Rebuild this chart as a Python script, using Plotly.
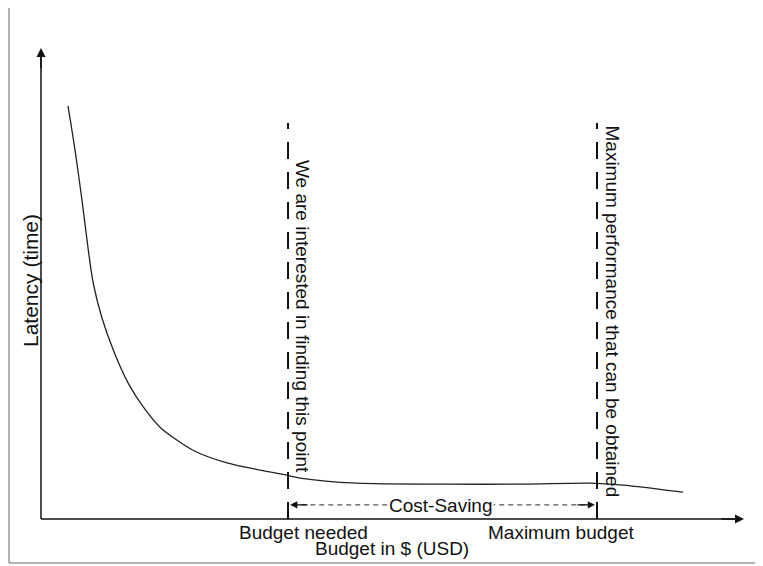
import plotly.graph_objects as go

# ---- data (budget / latency in arbitrary units 0-100) ----
budget = [3.84, 4.84, 5.83, 6.73, 7.44, 8.63, 10.28, 12.42, 14.55, 16.93, 21.62, 26.46,
          31.15, 34.99, 36.84, 44.95, 57.75, 68.56, 78.09, 82.79, 91.32]
latency = [87.7, 78.3, 67.7, 57.1, 50.0, 42.9, 35.9, 28.8, 23.8, 19.5, 14.6, 11.9,
           10.4, 9.3, 8.7, 7.6, 7.4, 7.4, 7.6, 7.2, 5.7]
budget_needed = 35.14
max_budget = 79.09
marker_top = 84.1
cost_saving_level = 3.0

# ---- layout geometry (page pixels; page body has an 8px margin) ----
OFF = 8
PW, PH = 763, 566
W, H = PW - OFF, PH - OFF
L, R, T, B = 41, 744, 48, 519   # plot area in page pixels


def px2x(px):
    return (px - L) / (R - L) * 100


def py2y(py):
    return (B - py) / (B - T) * 100


def pxp(px):
    return (px - L) / (R - L)


def pyp(py):
    return (B - py) / (B - T)


FONT = "Liberation Sans, Arial, sans-serif"

fig = go.Figure()
fig.add_trace(go.Scatter(x=budget, y=latency, mode="lines",
                         line=dict(color="#222", width=1.3, shape="spline", smoothing=0.8),
                         hoverinfo="skip", showlegend=False))

shapes = []
# outer frame
shapes.append(dict(type="rect", xref="paper", yref="paper",
                   x0=pxp(9), x1=pxp(760), y0=pyp(563), y1=pyp(4),
                   line=dict(color="#666", width=1)))
# axes
shapes.append(dict(type="line", xref="paper", yref="paper", x0=0, x1=0, y0=0, y1=pyp(52),
                   line=dict(color="#111", width=1.5)))
shapes.append(dict(type="line", xref="paper", yref="paper", x0=0, x1=pxp(738), y0=0, y1=0,
                   line=dict(color="#111", width=1.5)))
# vertical dashed markers
for xv in (budget_needed, max_budget):
    shapes.append(dict(type="line", xref="x", yref="y", x0=xv, x1=xv, y0=0, y1=marker_top,
                       line=dict(color="#111", width=2, dash="17px,13px")))
# cost saving dashed line
shapes.append(dict(type="line", xref="x", yref="y", x0=budget_needed + 0.6, x1=max_budget - 0.6,
                   y0=cost_saving_level, y1=cost_saving_level,
                   line=dict(color="#555", width=1.2, dash="5px,4px")))

ann = []
# axis arrowheads
ann.append(dict(x=0, y=100, xref="x", yref="y", ax=0, ay=py2y(70), axref="x", ayref="y",
                showarrow=True, arrowhead=2, arrowsize=1.2, arrowwidth=1.5, arrowcolor="#111", text=""))
ann.append(dict(x=100, y=0, xref="x", yref="y", ax=px2x(720), ay=0, axref="x", ayref="y",
                showarrow=True, arrowhead=2, arrowsize=1.2, arrowwidth=1.5, arrowcolor="#111", text=""))
# cost saving arrowheads
ann.append(dict(x=budget_needed + 0.3, y=cost_saving_level, xref="x", yref="y",
                ax=budget_needed + 3, ay=cost_saving_level, axref="x", ayref="y",
                showarrow=True, arrowhead=2, arrowsize=1.1, arrowwidth=1.3, arrowcolor="#111", text=""))
ann.append(dict(x=max_budget - 0.3, y=cost_saving_level, xref="x", yref="y",
                ax=max_budget - 3, ay=cost_saving_level, axref="x", ayref="y",
                showarrow=True, arrowhead=2, arrowsize=1.1, arrowwidth=1.3, arrowcolor="#111", text=""))


def text(t, px, py, size=19, angle=0, xa="center", ya="middle", bg=None):
    d = dict(text=t, x=pxp(px), y=pyp(py), xref="paper", yref="paper", showarrow=False,
             textangle=angle, xanchor=xa, yanchor=ya,
             font=dict(family=FONT, size=size, color="#111"))
    if bg:
        d["bgcolor"] = bg
        d["borderpad"] = 0
    ann.append(d)


text("Cost-Saving", 441, 505, bg="white")
text("Budget needed", 303, 532)
text("Maximum budget", 561, 532)
text("Budget in $ (USD)", 392, 548)
text("Latency (time)", 30, 281, size=21, angle=-90)
text("We are interested in finding this point", 290, 158, angle=90, xa="left", ya="top")
text("Maximum performance that can be obtained", 600, 123, angle=90, xa="left", ya="top")

fig.update_layout(
    width=W, height=H,
    margin=dict(l=L - OFF, r=PW - R, t=T - OFF, b=PH - B, pad=0),
    paper_bgcolor="white", plot_bgcolor="white",
    xaxis=dict(range=[0, 100], visible=False, fixedrange=True),
    yaxis=dict(range=[0, 100], visible=False, fixedrange=True),
    shapes=shapes, annotations=ann, showlegend=False,
)

fig.write_html("out.html")
